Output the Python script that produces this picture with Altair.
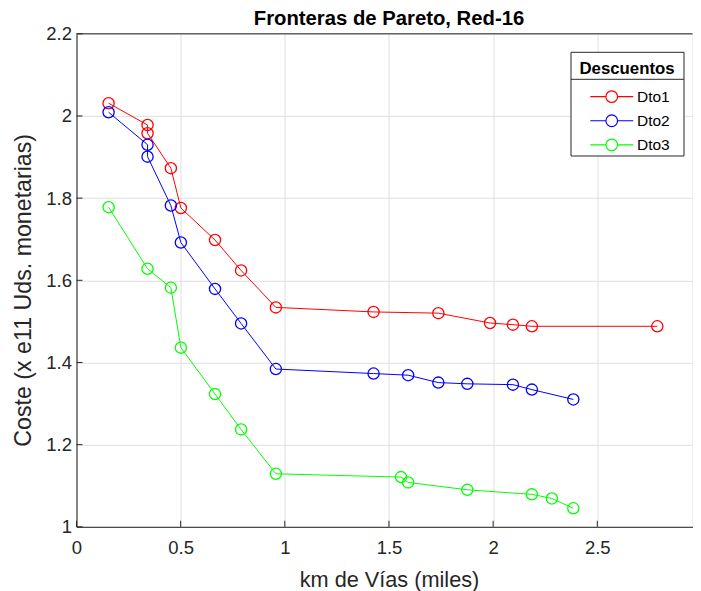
import altair as alt
import pandas as pd

# ---------------- data ----------------
series = ["Dto1", "Dto2", "Dto3"]

x_dto1 = [0.154, 0.341, 0.341, 0.453, 0.501, 0.665, 0.790, 0.957, 1.426, 1.737, 1.985, 2.095, 2.186, 2.788]
y_dto1 = [2.031, 1.978, 1.958, 1.873, 1.776, 1.698, 1.624, 1.534, 1.523, 1.520, 1.496, 1.492, 1.488, 1.488]

x_dto2 = [0.154, 0.341, 0.341, 0.453, 0.501, 0.665, 0.790, 0.957, 1.426, 1.592, 1.737, 1.876, 2.095, 2.186, 2.385]
y_dto2 = [2.009, 1.930, 1.901, 1.782, 1.692, 1.579, 1.495, 1.384, 1.373, 1.369, 1.351, 1.348, 1.346, 1.334, 1.310]

x_dto3 = [0.154, 0.341, 0.453, 0.501, 0.665, 0.790, 0.957, 1.558, 1.592, 1.876, 2.186, 2.282, 2.385]
y_dto3 = [1.778, 1.628, 1.582, 1.436, 1.323, 1.237, 1.129, 1.121, 1.108, 1.090, 1.079, 1.069, 1.045]

x_ticks = [0, 0.5, 1, 1.5, 2, 2.5, 3]
y_ticks = [1, 1.2, 1.4, 1.6, 1.8, 2, 2.2]

colors = ["#ff0000", "#0000ff", "#00ff00"]

rows = []
for name, xs, ys in zip(series, [x_dto1, x_dto2, x_dto3], [y_dto1, y_dto2, y_dto3]):
    for i, (xv, yv) in enumerate(zip(xs, ys)):
        rows.append({"serie": name, "km": xv, "coste": yv, "orden": i})
df = pd.DataFrame(rows)
xt_df = pd.DataFrame({"t": x_ticks[:-1]})
yt_df = pd.DataFrame({"t": y_ticks})

# ---------------- styling ----------------
# the reference axes run to x = 3 just past the window edge; the visible part is 0 .. 2.957
W, H = 616, 493
FONT = "Liberation Sans"
AX = "#262626"

x_scale = alt.Scale(domain=[0, 2.957], nice=False, zero=False)
y_scale = alt.Scale(domain=[1, 2.2], nice=False, zero=False)
c_scale = alt.Scale(domain=series, range=colors)

x_axis = alt.Axis(values=x_ticks[:-1], format="~g", title="km de Vías (miles)", grid=True,
                  ticks=False, labelPadding=12, titlePadding=12, labelFontSize=18.5,
                  titleFontSize=21.7, labelFont=FONT, titleFont=FONT, labelColor=AX,
                  titleColor=AX, titleFontWeight="normal", domainColor=AX,
                  gridColor="#dfdfdf", labelFlush=False, titleX=312.5)
y_axis = alt.Axis(values=y_ticks, format="~g", title="Coste (x e11 Uds. monetarias)", grid=True,
                  ticks=False, labelPadding=5, titlePadding=10, labelFontSize=18.5,
                  titleFontSize=23.2, labelFont=FONT, titleFont=FONT, labelColor=AX,
                  titleColor=AX, titleFontWeight="normal", domainColor=AX,
                  gridColor="#dfdfdf", labelFlush=False, titleY=256)

# legend symbol: short line with an open circle in the middle
SYM = "M-3.58,0L-0.97,0M0.97,0L3.58,0M0.97,0A0.97,0.97,0,1,1,-0.97,0A0.97,0.97,0,1,1,0.97,0"

legend = alt.Legend(title="Descuentos", orient="none", legendX=502.5, legendY=27.7,
                    symbolType=SYM, symbolSize=144, symbolStrokeWidth=1.2,
                    symbolOffset=19, labelOffset=17.5, labelFont=FONT, labelFontSize=15.5,
                    labelColor="black", titleFont=FONT, titleFontSize=16.8,
                    titleFontWeight="bold", titleColor="black", titleAnchor="middle",
                    titlePadding=10.6, rowPadding=6.1, padding=0, zindex=2)

base = alt.Chart(df)

deco = alt.Data(values=[{"k": 1}])
legend_bg = alt.Chart(deco).mark_rect(fill="white", stroke=AX, strokeWidth=1).encode(
    x=alt.value(494.5), x2=alt.value(607.5), y=alt.value(18.5), y2=alt.value(122.2))
legend_sep = alt.Chart(deco).mark_rule(color=AX, strokeWidth=1).encode(
    x=alt.value(494.5), x2=alt.value(607.5), y=alt.value(45.5))
top_border = alt.Chart(deco).mark_rule(color=AX, strokeWidth=1).encode(
    x=alt.value(0), x2=alt.value(W), y=alt.value(0))

x_in_ticks = alt.Chart(xt_df).mark_rule(color=AX, strokeWidth=1).encode(
    x=alt.X("t:Q", scale=x_scale, axis=x_axis), y=alt.value(H), y2=alt.value(H - 6))
y_in_ticks = alt.Chart(yt_df).mark_rule(color=AX, strokeWidth=1).encode(
    y=alt.Y("t:Q", scale=y_scale, axis=y_axis), x=alt.value(0), x2=alt.value(6))

lines = base.mark_line(strokeWidth=1).encode(
    x=alt.X("km:Q", scale=x_scale, axis=x_axis),
    y=alt.Y("coste:Q", scale=y_scale, axis=y_axis),
    color=alt.Color("serie:N", scale=c_scale, legend=legend),
    order="orden:Q",
    detail="serie:N",
)
points = base.mark_point(filled=False, size=125, strokeWidth=1.3, opacity=1).encode(
    x=alt.X("km:Q", scale=x_scale, axis=x_axis),
    y=alt.Y("coste:Q", scale=y_scale, axis=y_axis),
    color=alt.Color("serie:N", scale=c_scale, legend=legend),
)

chart = alt.layer(
    x_in_ticks, y_in_ticks, legend_bg, legend_sep, top_border, lines, points
).properties(
    width=W, height=H,
    title=alt.TitleParams("Fronteras de Pareto, Red-16", font=FONT, fontSize=20.3,
                          fontWeight="bold", color="black", anchor="middle",
                          baseline="alphabetic", offset=-21, dx=4.5),
    autosize=alt.AutoSizeParams(type="none"),
    padding={"left": 68.5, "top": 25.8, "right": 0, "bottom": 64},
).configure_view(stroke=None).configure(background="white")

chart.save("out.html", embed_options={"renderer": "svg", "actions": False})
